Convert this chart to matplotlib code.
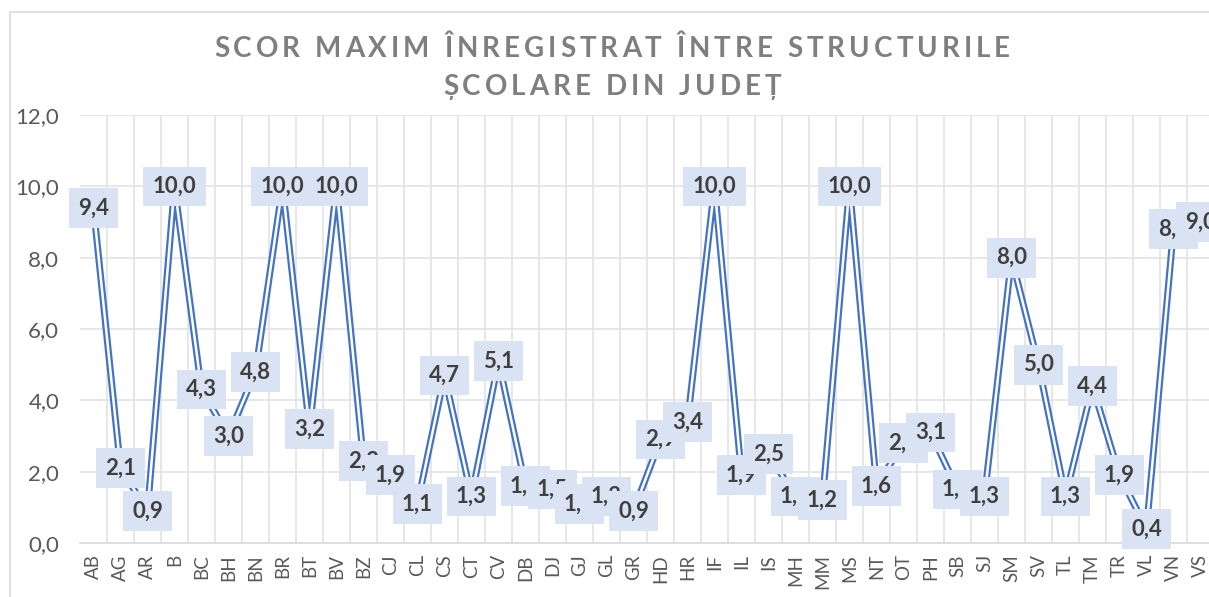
import numpy as np
import matplotlib
matplotlib.use('Agg')
import matplotlib.pyplot as plt
from matplotlib.patches import Rectangle

# county codes and max score per county
judete = ['AB', 'AG', 'AR', 'B', 'BC', 'BH', 'BN', 'BR', 'BT', 'BV', 'BZ', 'CJ',
          'CL', 'CS', 'CT', 'CV', 'DB', 'DJ', 'GJ', 'GL', 'GR', 'HD', 'HR', 'IF',
          'IL', 'IS', 'MH', 'MM', 'MS', 'NT', 'OT', 'PH', 'SB', 'SJ', 'SM', 'SV',
          'TL', 'TM', 'TR', 'VL', 'VN', 'VS']
scor = [9.4, 2.1, 0.9, 10.0, 4.3, 3.0, 4.8, 10.0, 3.2, 10.0, 2.3, 1.9,
        1.1, 4.7, 1.3, 5.1, 1.6, 1.5, 1.1, 1.3, 0.9, 2.9, 3.4, 10.0,
        1.9, 2.5, 1.3, 1.2, 10.0, 1.6, 2.8, 3.1, 1.5, 1.3, 8.0, 5.0,
        1.3, 4.4, 1.9, 0.4, 8.8, 9.0]
titlu = ['SCOR MAXIM ÎNREGISTRAT ÎNTRE STRUCTURILE', 'ȘCOLARE DIN JUDEȚ']
y_ticks = [0, 2, 4, 6, 8, 10, 12]

W, H = 1209, 597
fig = plt.figure(figsize=(W / 100, H / 100), dpi=100)
plt.rcParams['font.family'] = ['Lato', 'DejaVu Sans']

# chart border (right/bottom fall outside the crop)
fig.patches.append(Rectangle((10 / W, -0.1), 1.2, 1.1 - 12 / H, transform=fig.transFigure,
                             fill=False, edgecolor='#D9D9D9', linewidth=1.2))

ax = fig.add_axes([80 / W, 1 - 543 / H, 1134 / W, 428 / H])
x = np.arange(len(judete))

ax.set_xlim(-0.5, len(judete) - 0.5)
ax.set_ylim(0, 12)
ax.set_yticks(y_ticks)
ax.set_yticklabels([f'{v:.1f}'.replace('.', ',') for v in y_ticks])
ax.set_xticks(x)
ax.set_xticklabels(judete, rotation=90)
ax.set_xticks(x[:-1] + 0.5, minor=True)
ax.tick_params(axis='y', length=0, pad=15, labelsize=16, labelcolor='#595959')
ax.tick_params(axis='x', which='both', length=0, pad=8, labelsize=13.5, labelcolor='#595959')
ax.grid(axis='y', color='#E3E3E3', linewidth=1.2)
ax.grid(axis='x', which='minor', color='#E3E3E3', linewidth=1.2)
for s in ['left', 'right', 'top']:
    ax.spines[s].set_visible(False)
ax.spines['bottom'].set_color('#D9D9D9')
ax.spines['bottom'].set_linewidth(1.2)
ax.set_axisbelow(True)

# double line: blue outer, white core
ax.plot(x, scor, color='#4472C4', linewidth=5.0, solid_joinstyle='miter', zorder=3, clip_on=False)
ax.plot(x, scor, color='white', linewidth=1.8, solid_joinstyle='miter', zorder=4, clip_on=False)

for i, v in enumerate(scor):
    ax.text(i, v, f'{v:.1f}'.replace('.', ','), ha='center', va='center',
            fontsize=16, fontweight='bold', color='#404040', zorder=10 + i,
            bbox=dict(boxstyle='square,pad=0.42', facecolor='#DAE3F3', edgecolor='none'),
            clip_on=False)

# title with letter spacing, placed glyph by glyph
renderer = fig.canvas.get_renderer()
tkw = dict(fontsize=20, fontweight='bold', color='#7F7F7F')


def char_width(ch):
    if ch == ' ':
        a = fig.text(0, 0, 'a a', **tkw)
        b = fig.text(0, 0, 'aa', **tkw)
        w = a.get_window_extent(renderer).width - b.get_window_extent(renderer).width
        a.remove()
        b.remove()
        return w
    t = fig.text(0, 0, ch, **tkw)
    w = t.get_window_extent(renderer).width
    t.remove()
    return w


def spaced_title(s, xc, y_base, track):
    widths = [char_width(c) for c in s]
    total = sum(widths) + track * (len(s) - 1)
    xp = xc - total / 2
    for c, w in zip(s, widths):
        fig.text(xp / W, 1 - y_base / H, c, ha='left', va='baseline', **tkw)
        xp += w + track


spaced_title(titlu[0], 612, 57, 4.0)
spaced_title(titlu[1], 612, 95, 4.0)

fig.savefig('out.png', dpi=100)
